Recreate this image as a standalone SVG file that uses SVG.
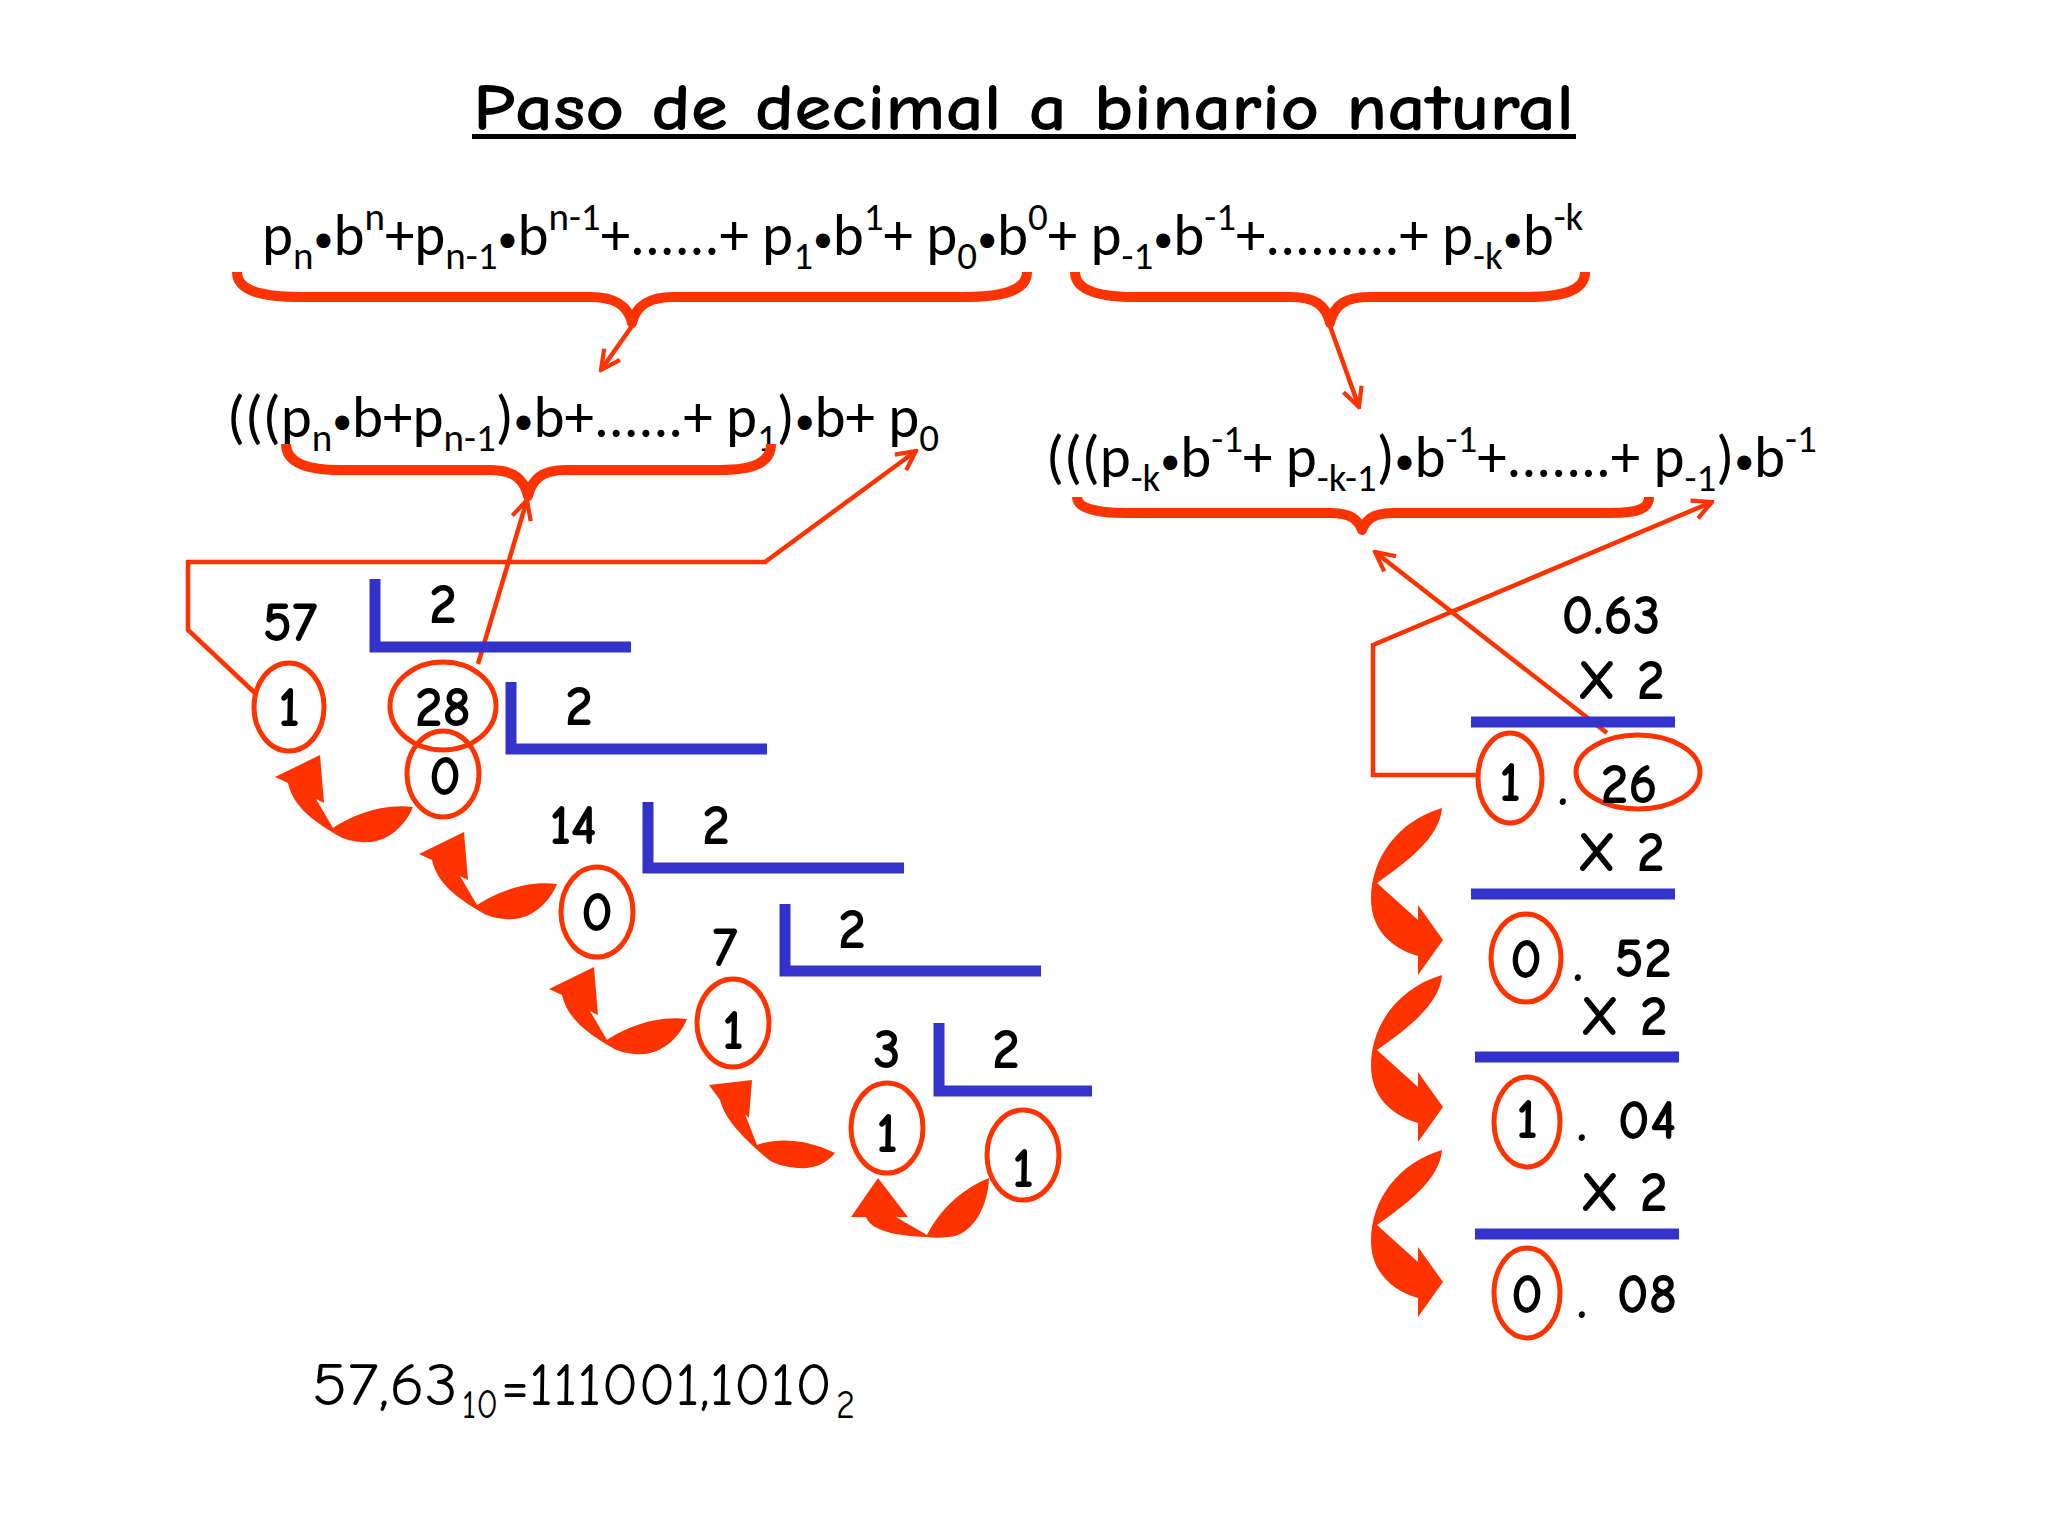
<svg xmlns="http://www.w3.org/2000/svg" xmlns:xlink="http://www.w3.org/1999/xlink" width="2048" height="1536" viewBox="0 0 2048 1536">
<style>
.comic{font-family:'Comic Sans MS','Comic Neue','DejaVu Sans',sans-serif;fill:#000;}
.num{font-family:'Comic Sans MS','Comic Neue','DejaVu Sans',sans-serif;font-weight:bold;font-size:56px;fill:#000;text-anchor:middle;}
.f{font-family:Carlito,Calibri,Lato,sans-serif;font-size:59px;fill:#000;}
.s{font-size:39px;}
.d{font-size:40px;}
.red{fill:none;stroke:#FF3300;stroke-width:5;}
.brace{fill:none;stroke:#FF3300;stroke-width:10;stroke-linejoin:round;}
.blue{fill:none;stroke:#3333CC;stroke-width:11;stroke-linejoin:miter;}
.conn{fill:none;stroke:#FF3300;stroke-width:4.5;stroke-linejoin:miter;}
.carrow{fill:#FF3300;stroke:none;}
</style>
<defs>
<marker id="vhead" viewBox="0 0 20 20" refX="18" refY="10" markerWidth="24" markerHeight="24" markerUnits="userSpaceOnUse" orient="auto">
<path d="M2,2 L18,10 L2,18" fill="none" stroke="#FF3300" stroke-width="3.5"/>
</marker>
<path id="leftArrow" d="M0,0 L45,-22 L49,26 L41,22 L58,51 C75,40 105,26 138,30 C130,50 112,64 95,65 C80,66 68,62 62,58 C40,45 18,30 13,6 Z"/>
<path id="rightArrow" d="M1442,975 C1440,1005 1405,1030 1377,1050 L1418,1087 L1418,1072 L1443,1107 L1418,1142 L1418,1123 C1390,1115 1371,1095 1371,1066 C1371,1025 1398,988 1442,975 Z"/>
</defs>
<rect width="2048" height="1536" fill="#FFFFFF"/>

<g id="title">
<text class="comic" x="473" y="130" font-size="66" font-weight="bold" textLength="1101" lengthAdjust="spacingAndGlyphs">Paso de decimal a binario natural</text>
<rect x="472" y="134" width="1104" height="5" fill="#000"/>
</g>

<g id="formula1">
<text class="f" x="262" y="255">p<tspan class="s" dy="14">n</tspan><tspan class="d" dy="-17">•</tspan><tspan dy="3">b</tspan><tspan class="s" dy="-25">n</tspan><tspan dy="25">+p</tspan><tspan class="s" dy="14">n-1</tspan><tspan class="d" dy="-17">•</tspan><tspan dy="3">b</tspan><tspan class="s" dy="-25">n-1</tspan><tspan dy="25">+......+ p</tspan><tspan class="s" dy="14">1</tspan><tspan class="d" dy="-17">•</tspan><tspan dy="3">b</tspan><tspan class="s" dy="-25">1</tspan><tspan dy="25">+ p</tspan><tspan class="s" dy="14">0</tspan><tspan class="d" dy="-17">•</tspan><tspan dy="3">b</tspan><tspan class="s" dy="-25">0</tspan><tspan dy="25">+ p</tspan><tspan class="s" dy="14">-1</tspan><tspan class="d" dy="-17">•</tspan><tspan dy="3">b</tspan><tspan class="s" dy="-25">-1</tspan><tspan dy="25">+.........+ p</tspan><tspan class="s" dy="14">-k</tspan><tspan class="d" dy="-17">•</tspan><tspan dy="3">b</tspan><tspan class="s" dy="-25">-k</tspan></text>
</g>

<g id="formula2">
<text class="f" x="227" y="437">(((p<tspan class="s" dy="14">n</tspan><tspan class="d" dy="-17">•</tspan><tspan dy="3">b+p</tspan><tspan class="s" dy="14">n-1</tspan><tspan dy="-14">)</tspan><tspan class="d" dy="-3">•</tspan><tspan dy="3">b+......+ p</tspan><tspan class="s" dy="14">1</tspan><tspan dy="-14">)</tspan><tspan class="d" dy="-3">•</tspan><tspan dy="3">b+ p</tspan><tspan class="s" dy="14">0</tspan></text>
</g>

<g id="formula3">
<text class="f" x="1046" y="477">(((p<tspan class="s" dy="14">-k</tspan><tspan class="d" dy="-17">•</tspan><tspan dy="3">b</tspan><tspan class="s" dy="-25">-1</tspan><tspan dy="25">+ p</tspan><tspan class="s" dy="14">-k-1</tspan><tspan dy="-14">)</tspan><tspan class="d" dy="-3">•</tspan><tspan dy="3">b</tspan><tspan class="s" dy="-25">-1</tspan><tspan dy="25">+.......+ p</tspan><tspan class="s" dy="14">-1</tspan><tspan dy="-14">)</tspan><tspan class="d" dy="-3">•</tspan><tspan dy="3">b</tspan><tspan class="s" dy="-25">-1</tspan></text>
</g>

<g id="braces">
<path class="brace" d="M237,272 C237,290 260,297 300,297 L590,297 C615,297 628,305 632,323 C636,305 649,297 674,297 L963,297 C1005,297 1027,290 1027,272"/>
<path class="brace" d="M1075,272 C1075,290 1098,297 1135,297 L1290,297 C1315,297 1326,305 1330,323 C1334,305 1345,297 1370,297 L1525,297 C1565,297 1585,290 1585,272"/>
<path class="brace" d="M286,444 C286,462 305,470 340,470 L490,470 C515,470 524,480 528,496 C532,480 541,470 566,470 L720,470 C755,470 771,462 771,444"/>
<path class="brace" stroke-width="9" d="M1077,497 C1077,508 1095,513 1125,513 L1330,513 C1352,513 1358,520 1362,530 C1366,520 1372,513 1394,513 L1610,513 C1640,513 1649,508 1649,497"/>
</g>

<g id="connectors">
<path class="conn" d="M632,326 L601,370" marker-end="url(#vhead)"/>
<path class="conn" d="M1330,326 L1359,407" marker-end="url(#vhead)"/>
<path class="conn" d="M478,664 L527,500" marker-end="url(#vhead)"/>
<path class="conn" d="M255,693 L188,630 L188,562 L765,562 L916,451" marker-end="url(#vhead)"/>
<path class="conn" d="M1607,733 L1375,552" marker-end="url(#vhead)"/>
<path class="conn" d="M1478,775 L1373,775 L1373,645 L1712,502" marker-end="url(#vhead)"/>
</g>

<g id="curved-arrows">
<use xlink:href="#leftArrow" href="#leftArrow" class="carrow" transform="translate(275,777)"/>
<use xlink:href="#leftArrow" href="#leftArrow" class="carrow" transform="translate(419,854)"/>
<use xlink:href="#leftArrow" href="#leftArrow" class="carrow" transform="translate(549,989)"/>
<path class="carrow" d="M709,1085 L752,1080 L749,1118 L745,1114 L757,1145 C775,1138 805,1138 835,1153 C825,1165 812,1169 798,1168 C785,1167 775,1164 769,1160 C745,1140 725,1120 720,1100 Z"/>
<path class="carrow" d="M878,1178 L908,1217 L896,1217 L927,1235 C940,1210 960,1190 989,1178 C988,1205 975,1230 955,1236 C945,1238 935,1238 927,1237 C895,1236 870,1230 866,1217 L851,1217 Z"/>
<use xlink:href="#rightArrow" href="#rightArrow" class="carrow" transform="translate(0,-167)"/>
<use xlink:href="#rightArrow" href="#rightArrow" class="carrow"/>
<use xlink:href="#rightArrow" href="#rightArrow" class="carrow" transform="translate(0,175)"/>
</g>

<g id="div-57">
<text class="num" x="290" y="641">57</text>
<path class="blue" d="M375,579 V647 H631"/>
<text class="num" x="443" y="623">2</text>
</g>
<g id="rem-1a"><ellipse class="red" cx="289" cy="707" rx="35" ry="44"/><text class="num" x="289" y="726">1</text></g>
<g id="div-28">
<ellipse class="red" cx="443" cy="706" rx="53" ry="44"/><text class="num" x="443" y="726">28</text>
<path class="blue" d="M511,682 V749 H767"/>
<text class="num" x="579" y="725">2</text>
</g>
<g id="rem-0a"><ellipse class="red" cx="443" cy="774" rx="36" ry="43"/><text class="num" x="445" y="795">0</text></g>
<g id="div-14">
<text class="num" x="573" y="844">14</text>
<path class="blue" d="M648,802 V868 H904"/>
<text class="num" x="716" y="844">2</text>
</g>
<g id="rem-0b"><ellipse class="red" cx="597" cy="912" rx="36" ry="45"/><text class="num" x="597" y="931">0</text></g>
<g id="div-7">
<text class="num" x="725" y="966">7</text>
<path class="blue" d="M785,904 V971 H1041"/>
<text class="num" x="852" y="948">2</text>
</g>
<g id="rem-1b"><ellipse class="red" cx="733" cy="1023" rx="36" ry="44"/><text class="num" x="733" y="1049">1</text></g>
<g id="div-3">
<text class="num" x="887" y="1068">3</text>
<path class="blue" d="M939,1023 V1091 H1092"/>
<text class="num" x="1006" y="1068">2</text>
</g>
<g id="rem-1c"><ellipse class="red" cx="887" cy="1128" rx="36" ry="45"/><text class="num" x="887" y="1152">1</text></g>
<g id="quot-1"><ellipse class="red" cx="1023" cy="1155" rx="36" ry="45"/><text class="num" x="1023" y="1187">1</text></g>

<g id="mult-063">
<text class="num" x="1611" y="634">0.63</text>
<text class="num" x="1621" y="699">X 2</text>
<line class="blue" x1="1471" y1="722" x2="1675" y2="722"/>
</g>
<g id="res-126">
<ellipse class="red" cx="1510" cy="778" rx="32" ry="45"/><text class="num" x="1510" y="801">1</text>
<text class="num" x="1563" y="805">.</text>
<ellipse class="red" cx="1638" cy="772" rx="62" ry="37"/><text class="num" x="1629" y="803">26</text>
<text class="num" x="1621" y="871">X 2</text>
<line class="blue" x1="1471" y1="894" x2="1675" y2="894"/>
</g>
<g id="res-052">
<ellipse class="red" cx="1526" cy="958" rx="35" ry="44"/><text class="num" x="1526" y="978">0</text>
<text class="num" x="1578" y="981">.</text>
<text class="num" x="1643" y="977">52</text>
<text class="num" x="1624" y="1035">X 2</text>
<line class="blue" x1="1475" y1="1057" x2="1679" y2="1057"/>
</g>
<g id="res-104">
<ellipse class="red" cx="1527" cy="1122" rx="33" ry="45"/><text class="num" x="1527" y="1138">1</text>
<text class="num" x="1582" y="1141">.</text>
<text class="num" x="1647" y="1139">04</text>
<text class="num" x="1624" y="1211">X 2</text>
<line class="blue" x1="1475" y1="1234" x2="1679" y2="1234"/>
</g>
<g id="res-008">
<ellipse class="red" cx="1527" cy="1293" rx="33" ry="45"/><text class="num" x="1527" y="1313">0</text>
<text class="num" x="1582" y="1318">.</text>
<text class="num" x="1647" y="1313">08</text>
</g>

<g id="result">
<text class="comic" x="312" y="1405" font-size="60" textLength="146" lengthAdjust="spacingAndGlyphs">57,63</text>
<text class="comic" x="462" y="1418" font-size="40" textLength="36" lengthAdjust="spacingAndGlyphs">10</text>
<text class="comic" x="501" y="1405" font-size="60" textLength="331" lengthAdjust="spacingAndGlyphs">=111001,1010</text>
<text class="comic" x="836" y="1418" font-size="40" textLength="19" lengthAdjust="spacingAndGlyphs">2</text>
</g>
</svg>
